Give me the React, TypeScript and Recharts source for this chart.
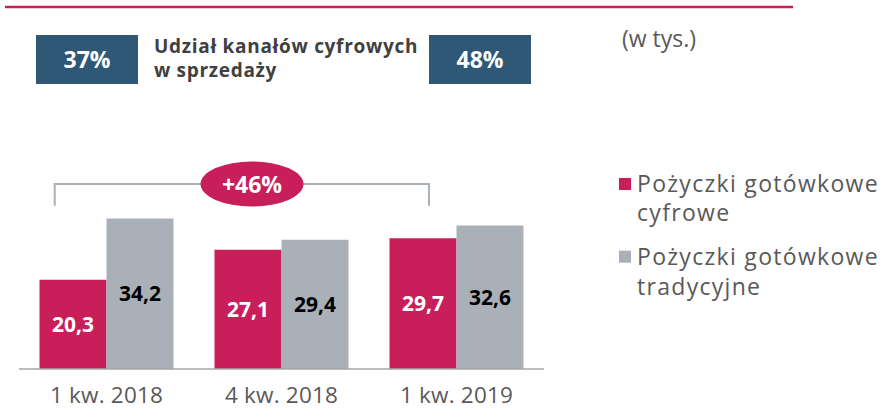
import React from 'react';
import { BarChart, Bar, XAxis, YAxis, LabelList } from 'recharts';

const categories = ['1 kw. 2018', '4 kw. 2018', '1 kw. 2019'];
const digitalLoans = [20.3, 27.1, 29.7];
const traditionalLoans = [34.2, 29.4, 32.6];
const seriesNames = ['Pożyczki gotówkowe cyfrowe', 'Pożyczki gotówkowe tradycyjne'];
const legendLines = [['Pożyczki gotówkowe', 'cyfrowe'], ['Pożyczki gotówkowe', 'tradycyjne']];
const shareStart = '37%';
const shareEnd = '48%';
const shareTitle = ['Udział kanałów cyfrowych', 'w sprzedaży'];
const unitNote = '(w tys.)';
const growthLabel = '+46%';

const CRIMSON = '#C81E5A';
const GRAY = '#A9B0B8';
const NAVY = '#2E5876';
const TEXT = '#595959';
const FONT = '"Open Sans", sans-serif';

const data = categories.map((c, i) => ({
  cat: c,
  digital: digitalLoans[i],
  traditional: traditionalLoans[i],
}));

const fmt = (v: any) => Number(v).toFixed(1).replace('.', ',');

const AxisTick = (props: any) => {
  const { x, y, payload } = props;
  return (
    <text x={x} y={y + 34} textAnchor="middle" fill={TEXT} fontSize={22.5} fontFamily={FONT} letterSpacing={0.2}>
      {payload.value}
    </text>
  );
};

const LegendBlock = () => {
  const colors = [CRIMSON, GRAY];
  const tops = [0, 73.3];
  return (
    <g transform="translate(600,160)">
      {legendLines.map((lines, i) => (
        <g key={i}>
          <rect x={19} y={18 + tops[i] - (i ? 0.6 : 0)} width={12} height={12} fill={colors[i]} />
          <text x={37} y={31.7 + tops[i]} fill={TEXT} fontSize={23} fontFamily={FONT} letterSpacing={1.3}>
            <tspan x={37}>{lines[0]}</tspan>
            <tspan x={37} dy={29.5}>{lines[1]}</tspan>
          </text>
        </g>
      ))}
    </g>
  );
};

export default function App() {
  return (
    <div style={{ position: 'absolute', left: 0, top: 0, width: 881, height: 410, background: '#fff', overflow: 'hidden' }}>
      <BarChart
        width={881}
        height={410}
        data={data}
        margin={{ top: 193, right: 337, bottom: 0, left: 19 }}
        barCategoryGap={20.5}
        barGap={0}
      >
        <XAxis
          dataKey="cat"
          height={41}
          tickLine={false}
          tickSize={0}
          tickMargin={0}
          axisLine={{ stroke: '#A6A6A6', strokeWidth: 1.5 }}
          tick={<AxisTick />}
          interval={0}
        />
        <YAxis hide domain={[0, 40]} />
        <Bar dataKey="digital" name={seriesNames[0]} fill={CRIMSON} isAnimationActive={false}>
          <LabelList dataKey="digital" position="center" formatter={fmt} fill="#FFFFFF" fontSize={21} fontWeight="bold" fontFamily={FONT} />
        </Bar>
        <Bar dataKey="traditional" name={seriesNames[1]} fill={GRAY} isAnimationActive={false}>
          <LabelList dataKey="traditional" position="center" formatter={fmt} fill="#000000" fontSize={21} fontWeight="bold" fontFamily={FONT} />
        </Bar>
      </BarChart>
      <svg width={881} height={410} style={{ position: 'absolute', left: 0, top: 0, pointerEvents: 'none' }}>
        <line x1={5} y1={7} x2={793} y2={7} stroke={CRIMSON} strokeWidth={2.5} />
        <rect x={36} y={35} width={102} height={49} fill={NAVY} />
        <text x={87} y={68.3} textAnchor="middle" fill="#fff" fontSize={23} fontWeight="bold" fontFamily={FONT}>{shareStart}</text>
        <rect x={429} y={35} width={102} height={49} fill={NAVY} />
        <text x={480} y={68.3} textAnchor="middle" fill="#fff" fontSize={23} fontWeight="bold" fontFamily={FONT}>{shareEnd}</text>
        <text x={154} y={53} fill="#404040" fontSize={19} fontWeight="bold" fontFamily={FONT} letterSpacing={0.7}>{shareTitle[0]}</text>
        <text x={154} y={77} fill="#404040" fontSize={19} fontWeight="bold" fontFamily={FONT} letterSpacing={0.7}>{shareTitle[1]}</text>
        <text x={622} y={47} fill={TEXT} fontSize={23} fontFamily={FONT}>{unitNote}</text>
        <path d="M54.7,205.7 V184 H429 V205.7" fill="none" stroke="#A9B0B7" strokeWidth={2} />
        <ellipse cx={252} cy={184} rx={51.5} ry={22.5} fill={CRIMSON} />
        <text x={252} y={193.3} textAnchor="middle" fill="#fff" fontSize={23} fontWeight="bold" fontFamily={FONT}>{growthLabel}</text>
        <LegendBlock />
      </svg>
    </div>
  );
}
